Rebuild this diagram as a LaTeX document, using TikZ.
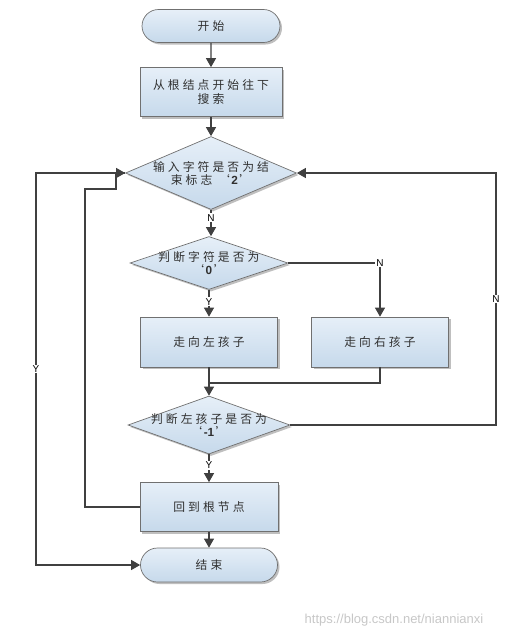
\documentclass[tikz,border=0pt]{standalone}
\usepackage{fontspec}
\setmainfont{Liberation Sans}
\newfontfamily\cjk[LetterSpace=26]{Noto Sans CJK SC}
\usetikzlibrary{shapes.geometric,shapes.misc,shadows,arrows.meta}
\definecolor{filltop}{HTML}{E6EFF8}
\definecolor{fillbot}{HTML}{C6D9EB}
\definecolor{boxborder}{HTML}{707070}
\definecolor{linec}{HTML}{404040}
\definecolor{txt}{HTML}{303030}
\newcommand{\qt}[1]{‘\kern1.5pt{\normalfont\bfseries #1}\kern1.5pt’}
\tikzset{
  base/.style={draw=boxborder, line width=0.7pt, top color=filltop, bottom color=fillbot,
    drop shadow={shadow xshift=2pt,shadow yshift=-2pt,fill=black,opacity=0.25},
    font=\cjk\fontsize{11.8}{14}\selectfont, text=txt, align=center, inner sep=0pt},
  procbox/.style={base, rectangle},
  termbox/.style={base, rounded rectangle},
  decbox/.style={base, diamond},
  dtext/.style={font=\cjk\fontsize{11.8}{13}\selectfont, text=txt, align=center},
  ln/.style={line width=1.2pt, draw=linec},
  arr/.style={ln, -{Triangle[length=9pt,width=10pt]}},
  lab/.style={font=\fontsize{10}{10}\selectfont, fill=white, inner sep=1pt, text=black},
}
\begin{document}
\begin{tikzpicture}[x=1pt,y=-1pt]
\useasboundingbox (0,0) rectangle (512,638);
\node[termbox, minimum width=138pt, minimum height=33pt] (start) at (211,26) {开始};
\node[procbox, minimum width=142pt, minimum height=49pt] (b1) at (211,92) {从根结点开始往下\\搜索};
\node[decbox, minimum width=171pt, minimum height=73pt,
  label={[dtext]center:{输入字符是否为结\\束标志 \qt{2}}}] (d1) at (211,173) {};
\node[decbox, minimum width=158pt, minimum height=53pt,
  label={[dtext]center:{判断字符是否为\\\qt{0}}}] (d2) at (209,263) {};
\node[procbox, minimum width=137pt, minimum height=50pt] (bL) at (209,342) {走向左孩子};
\node[procbox, minimum width=137pt, minimum height=50pt] (bR) at (380,342) {走向右孩子};
\node[decbox, minimum width=162pt, minimum height=58pt,
  label={[dtext]center:{判断左孩子是否为\\\qt{-1}}}] (d3) at (209,425) {};
\node[procbox, minimum width=138pt, minimum height=49pt] (b4) at (209,507) {回到根节点};
\node[termbox, minimum width=137pt, minimum height=34pt] (end) at (209,565) {结束};
\node[font=\fontsize{13}{13}\selectfont, text=black!22] (wm) at (394,620) {https://blog.csdn.net/niannianxi};

\coordinate (m) at (209,383);
\coordinate (rN) at (496,173);
\coordinate (lY) at (36,173);
\coordinate (li1) at (85,189);
\coordinate (li2) at (116,189);

\draw[arr] (start) -- (b1);
\draw[arr] (b1) -- (d1);
\draw[arr] (d1.south) -- node[lab,pos=0.3]{N} (d1.south |- d2.north);
\draw[arr] (d2.east) -| node[lab,pos=0.5]{N} (bR.north);
\draw[arr] (d2.south) -- node[lab,pos=0.45]{Y} (bL.north);
\draw[arr] (bL.south) -- (d3.north);
\draw[ln] (bR.south) |- (m);
\draw[arr] (d3.east) -| node[lab,pos=0.75]{N} (rN) -- (d1.east);
\draw[arr] (d3.south) -- node[lab,pos=0.4]{Y} (b4.north);
\draw[arr] (b4) -- (end);
\draw[arr] (d1.west) -- (lY) |- node[lab,pos=0.25]{Y} (end.west);
\draw[arr] (b4.west) -| (li1) -- (li2) |- (d1.west);
\end{tikzpicture}
\end{document}
